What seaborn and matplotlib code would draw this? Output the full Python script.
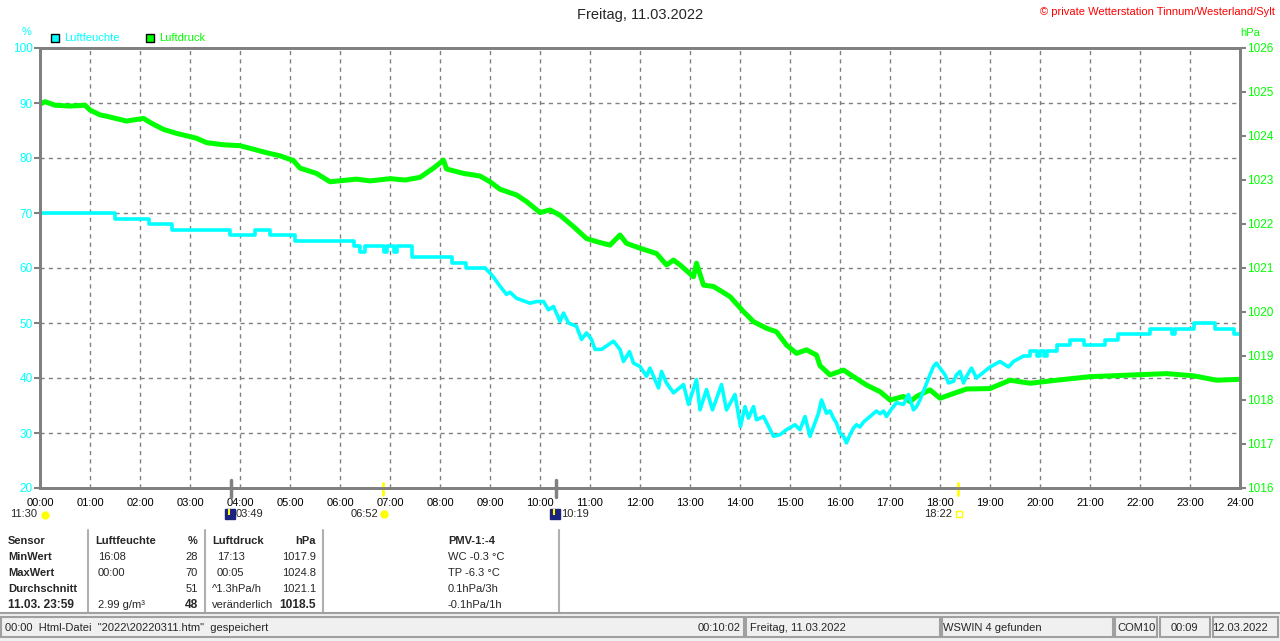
import matplotlib
matplotlib.use("Agg")
import matplotlib.pyplot as plt
from matplotlib.patches import Rectangle
import seaborn as sns
import pandas as pd

# humidity (%) -- hour of day, value
hum_hours = [0.0, 1.5, 2.17, 2.63, 3.8, 4.3, 4.6, 5.1, 6.27, 6.4, 6.5, 6.87, 6.93, 7.07, 7.13, 7.43,
             8.23, 8.53, 8.9, 9.01, 9.08, 9.2, 9.33, 9.4, 9.53, 9.8, 9.93, 10.07, 10.17, 10.27, 10.4,
             10.47, 10.57, 10.73, 10.83, 10.93, 11.03, 11.1, 11.23, 11.47, 11.6, 11.67, 11.79, 11.87,
             12.0, 12.13, 12.2, 12.37, 12.43, 12.53, 12.67, 12.87, 12.97, 13.13, 13.2, 13.33, 13.45,
             13.63, 13.73, 13.9, 14.01, 14.1, 14.17, 14.27, 14.33, 14.47, 14.57, 14.67, 14.8, 14.93,
             15.1, 15.2, 15.3, 15.4, 15.57, 15.63, 15.73, 15.8, 15.87, 15.93, 16.0, 16.07, 16.13,
             16.2, 16.27, 16.33, 16.4, 16.47, 16.73, 16.8, 16.87, 16.93, 17.0, 17.13, 17.27, 17.37,
             17.47, 17.53, 17.6, 17.73, 17.8, 17.87, 17.93, 18.0, 18.1, 18.17, 18.27, 18.33, 18.4,
             18.47, 18.53, 18.63, 18.73, 19.0, 19.2, 19.37, 19.47, 19.67, 19.8, 19.93, 20.0, 20.07,
             20.13, 20.33, 20.6, 20.87, 21.3, 21.55, 22.2, 22.63, 22.7, 23.07, 23.5, 23.87, 24.0]
hum_values = [70, 69, 68, 67, 66, 67, 66, 65, 64, 63, 64, 63, 64, 63, 64, 62,
              61, 60, 60, 59, 58.2, 56.7, 55.2, 55.6, 54.5, 53.6, 53.9, 53.9, 52.4, 53, 50.3,
              51.8, 50, 49.4, 47, 48.2, 47, 45.2, 45.2, 46.7, 45.2, 43, 44.8, 42.7,
              42.1, 40.3, 41.8, 38.2, 41.2, 39.1, 37.3, 38.8, 35.2, 39.7, 34.2, 37.9, 34.2,
              38.8, 34.2, 37, 31.2, 34.8, 32.7, 34.8, 32.4, 33, 31.2, 29.4, 29.7, 30.6,
              31.5, 30.6, 33, 29.4, 33.6, 36, 33.6, 34, 32.7, 31.8, 30, 29.4, 28.2,
              29.7, 30.9, 31.5, 31.1, 32, 34, 33.5, 34, 33, 34, 35.5, 35.2, 37,
              34.2, 34.8, 36, 39, 40.6, 42.1, 42.7, 41.8, 40.6, 39.1, 39.4, 40.6, 41.2,
              39.1, 40.3, 41.8, 40, 42, 43, 42, 43, 44, 45, 44, 45, 44,
              45, 46, 47, 46, 47, 48, 49, 48, 49, 50, 49, 48, 48]

# air pressure (hPa)
press_hours = [0.0, 0.1, 0.3, 0.6, 0.9, 1.0, 1.2, 1.33, 1.73, 2.07, 2.23, 2.47, 2.73, 3.13, 3.33,
               3.67, 4.0, 4.27, 4.53, 4.8, 5.07, 5.2, 5.53, 5.8, 6.33, 6.6, 7.0, 7.3, 7.6, 7.87,
               8.07, 8.13, 8.47, 8.8, 9.0, 9.2, 9.53, 9.73, 10.0, 10.2, 10.4, 10.67, 10.93, 11.13,
               11.4, 11.6, 11.73, 12.0, 12.33, 12.53, 12.67, 12.8, 13.07, 13.13, 13.27, 13.47, 13.8,
               14.07, 14.27, 14.53, 14.73, 14.93, 15.13, 15.33, 15.53, 15.6, 15.8, 16.07, 16.27,
               16.53, 16.8, 17.0, 17.27, 17.4, 17.53, 17.8, 18.0, 18.53, 19.0, 19.4, 19.8, 20.33,
               21.0, 22.53, 23.07, 23.53, 24.0]
press_values = [1024.72, 1024.78, 1024.70, 1024.68, 1024.70, 1024.59, 1024.48, 1024.45, 1024.34,
                1024.40, 1024.29, 1024.15, 1024.06, 1023.95, 1023.85, 1023.80, 1023.78, 1023.70,
                1023.62, 1023.55, 1023.44, 1023.27, 1023.15, 1022.96, 1023.02, 1022.98, 1023.03,
                1023.00, 1023.06, 1023.27, 1023.45, 1023.25, 1023.15, 1023.09, 1022.96, 1022.79,
                1022.66, 1022.51, 1022.26, 1022.32, 1022.20, 1021.94, 1021.67, 1021.60, 1021.52,
                1021.75, 1021.56, 1021.45, 1021.33, 1021.07, 1021.18, 1021.07, 1020.80, 1021.11,
                1020.61, 1020.58, 1020.35, 1020.01, 1019.78, 1019.63, 1019.55, 1019.25, 1019.06,
                1019.14, 1019.02, 1018.78, 1018.57, 1018.68, 1018.53, 1018.34, 1018.19, 1018.00,
                1018.08, 1017.96, 1018.08, 1018.23, 1018.04, 1018.25, 1018.26, 1018.45, 1018.38,
                1018.45, 1018.53, 1018.60, 1018.55, 1018.45, 1018.47]

hour_labels = [f"{h:02d}:00" for h in range(25)]
hum_ticks = [20, 30, 40, 50, 60, 70, 80, 90, 100]
press_ticks = list(range(1016, 1027))

CYAN = "#00ffff"
GREEN = "#00ff00"
GRAY = "#808080"

sns.set_style("white")
plt.rcParams["font.family"] = ["Liberation Sans", "DejaVu Sans"]
plt.rcParams["font.size"] = 8

W, H = 1280, 641
fig = plt.figure(figsize=(12.8, 6.41), dpi=100)


def fx(px):
    return px / W


def fy(py):
    return 1 - py / H


ax = fig.add_axes([fx(40), fy(488), fx(1200), 440 / H])
ax2 = ax.twinx()
ax.set_zorder(2)
ax2.set_zorder(1)
ax.patch.set_visible(False)

hum_df = pd.DataFrame({"hour": hum_hours, "value": hum_values})
press_df = pd.DataFrame({"hour": press_hours, "value": press_values})
# calm morning and evening parts move in whole-percent steps, the afternoon is noisy
hum_morning = hum_df[hum_df["hour"] <= 8.9]
hum_noisy = hum_df[(hum_df["hour"] >= 8.9) & (hum_df["hour"] <= 19.67)]
hum_evening = hum_df[hum_df["hour"] >= 19.67]

sns.lineplot(data=press_df, x="hour", y="value", ax=ax2, color=GREEN, lw=3.6,
             estimator=None)
for part, style in ((hum_morning, "steps-post"), (hum_noisy, "default"),
                    (hum_evening, "steps-post")):
    sns.lineplot(data=part, x="hour", y="value", ax=ax, color=CYAN, lw=2.6,
                 drawstyle=style, estimator=None)

ax.set_xlim(0, 24)
ax.set_ylim(20, 100)
ax2.set_ylim(1016, 1026)
ax.set_xlabel("")
ax.set_ylabel("")
ax2.set_xlabel("")
ax2.set_ylabel("")

ax.set_xticks(range(25))
ax.set_xticklabels(hour_labels)
ax.set_yticks(hum_ticks)
ax2.set_yticks(press_ticks)
ax.tick_params(axis="x", length=0, pad=7, colors="black", labelsize=8)
ax.tick_params(axis="y", length=4, width=1.5, color=GRAY, labelcolor=CYAN, pad=1, labelsize=8.5)
ax2.tick_params(axis="y", length=4, width=1.5, color=GRAY, labelcolor=GREEN, pad=1, labelsize=8.5)

# grid drawn on the lower axes so both curves sit above it
for h in range(1, 24):
    ax2.axvline(h, color=GRAY, lw=1, ls=(0, (3, 3)), zorder=0.5)
for t in hum_ticks[1:-1]:
    ax2.axhline(1016 + (t - 20) * 10 / 80, color=GRAY, lw=1, ls=(0, (3, 3)), zorder=0.5)

for a in (ax, ax2):
    for s in a.spines.values():
        s.set_color(GRAY)
        s.set_linewidth(2)

# sun / moon marker ticks on time axis
xt = ax.get_xaxis_transform()
for t in (3 + 49 / 60, 10 + 19 / 60):
    ax.plot([t, t], [-0.02, 0.018], color=GRAY, lw=2.5, transform=xt, clip_on=False)
for t in (6 + 52 / 60, 18 + 22 / 60):
    ax.plot([t, t], [-0.017, 0.012], color="#ffff00", lw=2, transform=xt, clip_on=False)

# header texts
fig.text(0.5, fy(15), "Freitag, 11.03.2022", ha="center", va="center", fontsize=10.5)
fig.text(fx(1275), fy(12), "© private Wetterstation Tinnum/Westerland/Sylt", ha="right",
         va="center", color="#ff0000", fontsize=8)
fig.text(fx(27), fy(32), "%", ha="center", va="center", color=CYAN, fontsize=8)
fig.text(fx(1250), fy(33), "hPa", ha="center", va="center", color=GREEN, fontsize=8)

for x0, col, name in ((51, CYAN, "Luftfeuchte"), (146, GREEN, "Luftdruck")):
    fig.patches.append(Rectangle((fx(x0), fy(42)), fx(8), 8 / H, transform=fig.transFigure,
                                 facecolor=col, edgecolor="black", lw=1))
    fig.text(fx(x0 + 13), fy(38), name, ha="left", va="center", color=col, fontsize=8)

# rise / set times below the axis
fig.text(fx(37), fy(514), "11:30", ha="right", va="center", fontsize=8)
ax.plot([fx(45)], [fy(515)], marker="o", ms=5, color="#ffff00", transform=fig.transFigure,
        clip_on=False)
fig.text(fx(236), fy(514), "03:49", ha="left", va="center", fontsize=8)
fig.text(fx(561), fy(514), "10:19", ha="left", va="center", fontsize=8)
for xm in (230, 555):
    ax.plot([fx(xm)], [fy(514)], marker="s", ms=7, color="#1a237e", transform=fig.transFigure,
            clip_on=False)
    ax.plot([fx(xm - 1)], [fy(512)], marker="|", ms=5, mew=1.5, color="#ffff00",
            transform=fig.transFigure, clip_on=False)
fig.text(fx(378), fy(514), "06:52", ha="right", va="center", fontsize=8)
ax.plot([fx(384)], [fy(514)], marker="o", ms=5, color="#ffff00", transform=fig.transFigure,
        clip_on=False)
fig.text(fx(952), fy(514), "18:22", ha="right", va="center", fontsize=8)
ax.plot([fx(959)], [fy(514)], marker="s", ms=4, mfc="none", mec="#ffff00", mew=1,
        transform=fig.transFigure, clip_on=False)

# summary table
rows_y = [541, 557, 573, 589, 605]
sensor_col = ["Sensor", "MinWert", "MaxWert", "Durchschnitt", "11.03. 23:59"]
hum_col_a = ["Luftfeuchte", "16:08", "00:00", "", "2.99 g/m³"]
hum_col_b = ["%", "28", "70", "51", "48"]
press_col_a = ["Luftdruck", "17:13", "00:05", "^1.3hPa/h", "veränderlich"]
press_col_b = ["hPa", "1017.9", "1024.8", "1021.1", "1018.5"]
pmv_col = ["PMV-1:-4", "WC -0.3 °C", "TP -6.3 °C", "0.1hPa/3h", "-0.1hPa/1h"]

for i, y in enumerate(rows_y):
    head = i == 0
    last = i == 4
    fig.text(fx(8), fy(y), sensor_col[i], ha="left", va="center", fontweight="bold",
             fontsize=8.6 if last else 8)
    fig.text(fx(95 if head else 98), fy(y), hum_col_a[i], ha="left", va="center",
             fontweight="bold" if head else "normal")
    fig.text(fx(198), fy(y), hum_col_b[i], ha="right", va="center",
             fontweight="bold" if head or last else "normal", fontsize=8.6 if last else 8)
    fig.text(fx(212 if head or i >= 3 else 217), fy(y), press_col_a[i], ha="left", va="center",
             fontweight="bold" if head else "normal")
    fig.text(fx(316), fy(y), press_col_b[i], ha="right", va="center",
             fontweight="bold" if head or last else "normal", fontsize=8.6 if last else 8)
    fig.text(fx(448), fy(y), pmv_col[i], ha="left", va="center",
             fontweight="bold" if head else "normal")

for xs in (88, 205, 323, 559):
    fig.add_artist(plt.Line2D([fx(xs), fx(xs)], [fy(530), fy(612)], color="#b0b0b0", lw=1.5))

# status bar
fig.patches.append(Rectangle((0, 0), 1, fy(614), transform=fig.transFigure,
                             facecolor="#f0f0f0", edgecolor="none"))
fig.add_artist(plt.Line2D([0, 1], [fy(613), fy(613)], color="#a0a0a0", lw=1.5))
panels = [(1, 744), (746, 940), (942, 1113), (1115, 1157), (1160, 1210), (1213, 1278)]
for x0, x1 in panels:
    fig.patches.append(Rectangle((fx(x0), fy(637)), fx(x1 - x0), 20 / H,
                                 transform=fig.transFigure, facecolor="none",
                                 edgecolor="#a0a0a0", lw=1.5))
sy = fy(628)
fig.text(fx(5), sy, '00:00  Html-Datei  "2022\\20220311.htm"  gespeichert', ha="left", va="center")
fig.text(fx(741), sy, "00:10:02", ha="right", va="center")
fig.text(fx(750), sy, "Freitag, 11.03.2022", ha="left", va="center")
fig.text(fx(943), sy, "WSWIN 4 gefunden", ha="left", va="center")
fig.text(fx(1117), sy, "COM10", ha="left", va="center")
fig.text(fx(1184), sy, "00:09", ha="center", va="center")
fig.text(fx(1240), sy, "12.03.2022", ha="center", va="center")

fig.savefig("out.png", dpi=100)
